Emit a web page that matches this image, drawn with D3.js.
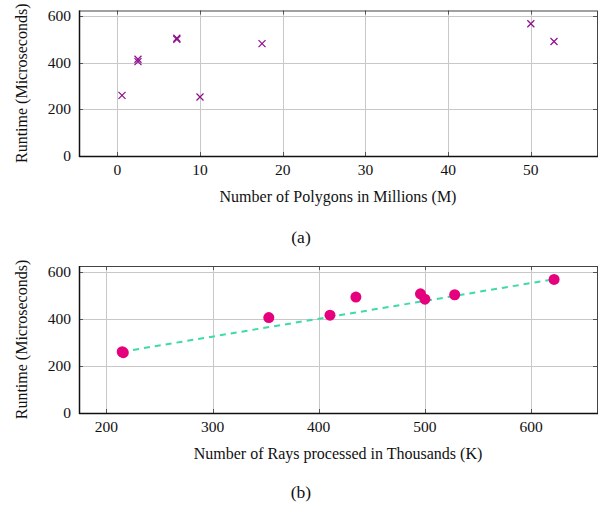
<!DOCTYPE html>
<html>
<head>
<meta charset="utf-8">
<script src="https://cdn.jsdelivr.net/npm/d3@7"></script>
<style>
  body { margin: 0; background: #fff; }
</style>
</head>
<body>
<div id="vis"></div>
<script>
// (a) runtime vs polygons (millions)
var polyX = [0.57, 2.5, 2.5, 7.2, 7.2, 10.0, 17.5, 50.0, 52.8];
var polyY = [260, 415, 405, 505, 500, 253, 482, 567, 491];
// (b) runtime vs rays (thousands)
var rayX = [215, 216, 353, 410.6, 435, 495.8, 500, 528, 621.6];
var rayY = [260, 256, 405, 415, 492, 506, 483, 502, 567];
var fitX = [215, 621.6];
var fitY = [260, 568];

var xTicksA = [0, 10, 20, 30, 40, 50];
var xTicksB = [200, 300, 400, 500, 600];
var yTicks = [0, 200, 400, 600];

var W = 603, H = 509;
var svg = d3.select("#vis").append("svg").attr("width", W).attr("height", H)
  .attr("font-family", "'Liberation Serif', 'Times New Roman', Times, serif");

function panel(top, bottom, xDomain, xTicks, xLabel, caption, captionY) {
  var left = 79, right = 597;
  var x = d3.scaleLinear().domain(xDomain).range([left, right]);
  var y = d3.scaleLinear().domain([0, 624]).range([bottom, top]);
  var g = svg.append("g");

  // grid
  g.selectAll(".gx").data(xTicks).enter().append("line")
    .attr("x1", function(d){ return Math.round(x(d)) + 0.5; })
    .attr("x2", function(d){ return Math.round(x(d)) + 0.5; })
    .attr("y1", top).attr("y2", bottom)
    .attr("stroke", "#c8c8c8").attr("stroke-width", 1);
  g.selectAll(".gy").data(yTicks).enter().append("line")
    .attr("y1", function(d){ return Math.round(y(d)) + 0.5; })
    .attr("y2", function(d){ return Math.round(y(d)) + 0.5; })
    .attr("x1", left).attr("x2", right)
    .attr("stroke", "#c8c8c8").attr("stroke-width", 1);

  // inner ticks on all four sides
  var tk = 4;
  xTicks.forEach(function(d){
    var px = Math.round(x(d)) + 0.5;
    g.append("line").attr("x1", px).attr("x2", px).attr("y1", bottom).attr("y2", bottom - tk).attr("stroke", "#555");
    g.append("line").attr("x1", px).attr("x2", px).attr("y1", top).attr("y2", top + tk).attr("stroke", "#555");
  });
  yTicks.forEach(function(d){
    var py = Math.round(y(d)) + 0.5;
    g.append("line").attr("y1", py).attr("y2", py).attr("x1", left).attr("x2", left + tk).attr("stroke", "#555");
    g.append("line").attr("y1", py).attr("y2", py).attr("x1", right).attr("x2", right - tk).attr("stroke", "#555");
  });

  // frame
  g.append("rect").attr("x", left + 0.5).attr("y", top + 0.5)
    .attr("width", right - left).attr("height", bottom - top)
    .attr("fill", "none").attr("stroke", "#444").attr("stroke-width", 1);
  g.append("line").attr("x1", left + 0.5).attr("x2", left + 0.5).attr("y1", top).attr("y2", bottom + 1)
    .attr("stroke", "#111").attr("stroke-width", 1.5);
  g.append("line").attr("x1", left).attr("x2", right + 1).attr("y1", bottom + 0.5).attr("y2", bottom + 0.5)
    .attr("stroke", "#111").attr("stroke-width", 1.5);

  // tick labels
  g.selectAll(".tx").data(xTicks).enter().append("text")
    .attr("x", function(d){ return x(d); }).attr("y", bottom + 19)
    .attr("text-anchor", "middle").attr("font-size", 15.5).attr("fill", "#111").text(function(d){ return d; });
  g.selectAll(".ty").data(yTicks).enter().append("text")
    .attr("x", left - 8).attr("y", function(d){ return y(d) + 5; })
    .attr("text-anchor", "end").attr("font-size", 15.5).attr("fill", "#111").text(function(d){ return d; });

  // axis labels
  g.append("text").attr("x", (left + right) / 2).attr("y", bottom + 46)
    .attr("text-anchor", "middle").attr("font-size", 16).attr("fill", "#111").text(xLabel);
  g.append("text").attr("transform", "translate(27," + ((top + bottom) / 2) + ") rotate(-90)")
    .attr("text-anchor", "middle").attr("font-size", 16).attr("fill", "#111").text("Runtime (Microseconds)");
  svg.append("text").attr("x", 301).attr("y", captionY)
    .attr("text-anchor", "middle").attr("font-size", 17.5).attr("fill", "#111").text(caption);

  return { g: g, x: x, y: y };
}

var a = panel(10.5, 156, [-4.63, 58], xTicksA, "Number of Polygons in Millions (M)", "(a)", 243);
var crossPath = "M-3.5,-3.5L3.5,3.5M-3.5,3.5L3.5,-3.5";
a.g.selectAll(".cross").data(polyX).enter().append("path")
  .attr("transform", function(d, i){ return "translate(" + a.x(d) + "," + a.y(polyY[i]) + ")"; })
  .attr("d", crossPath).attr("stroke", "#8e0d8e").attr("stroke-width", 1.2).attr("fill", "none");

var b = panel(266, 413, [174.3, 662], xTicksB, "Number of Rays processed in Thousands (K)", "(b)", 498);
var fit = fitX.map(function(d, i){ return [d, fitY[i]]; });
b.g.append("path").datum(fit)
  .attr("d", d3.line().x(function(d){ return b.x(d[0]); }).y(function(d){ return b.y(d[1]); }))
  .attr("stroke", "#3ddba8").attr("stroke-width", 2).attr("stroke-dasharray", "6,5").attr("fill", "none");
b.g.selectAll(".dot").data(rayX).enter().append("circle")
  .attr("cx", function(d){ return b.x(d); })
  .attr("cy", function(d, i){ return b.y(rayY[i]); })
  .attr("r", 5.5).attr("fill", "#e6007e");
</script>
</body>
</html>
